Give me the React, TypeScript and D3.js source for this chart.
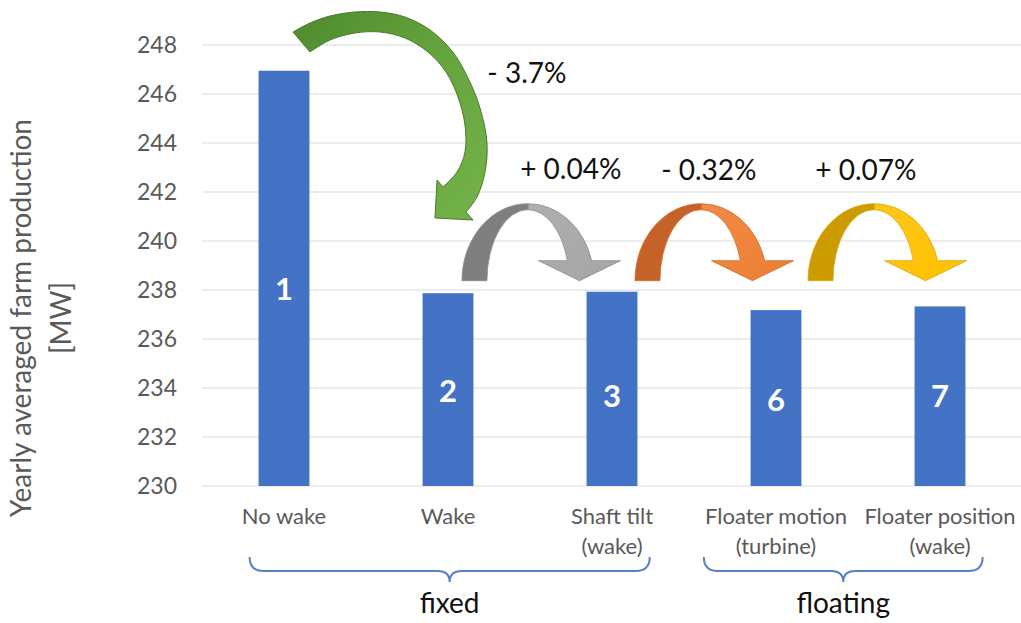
import React from "react";
import * as d3 from "d3";

const categoryLines: string[][] = [
  ["No wake"],
  ["Wake"],
  ["Shaft tilt", "(wake)"],
  ["Floater motion", "(turbine)"],
  ["Floater position", "(wake)"],
];
const categories = categoryLines.map((l) => l.join(" "));
const values = [246.95, 237.87, 237.93, 237.18, 237.33];
const barLabels = ["1", "2", "3", "6", "7"];
const barLabelValues = [238.05, 233.9, 233.7, 233.5, 233.7];
const yTicks = [230, 232, 234, 236, 238, 240, 242, 244, 246, 248];
const changeLabels = ["- 3.7%", "+ 0.04%", "- 0.32%", "+ 0.07%"];
// positions of change labels: [category index (fractional), value]
const changeLabelPos: [number, number][] = [
  [1.24, 246.45],
  [1.44, 242.55],
  [2.3, 242.5],
  [3.24, 242.5],
];
// curved arrows between bars: left foot at fractional category index
const hopArrowFrom = [1.085, 2.14, 3.195];
const hopArrowColors = [
  { dark: "#7F7F7F", light: "#A6A6A6", line: "#8C8C8C" },
  { dark: "#C5622A", light: "#EE7E32", line: "#D46A26" },
  { dark: "#CC9B00", light: "#FFC000", line: "#D9A600" },
];
const groups = [
  { name: "fixed", from: -0.21, to: 2.23 },
  { name: "floating", from: 2.56, to: 4.26 },
];

// green "big drop" arrow outline
const greenOuter: [number, number][] = [
  [293, 32], [310, 23], [330, 16], [355, 12], [380, 12], [405, 17], [430, 30],
  [452, 51], [468, 78], [480, 108], [487, 143], [485, 172], [477, 197], [466, 212],
];
const greenInner: [number, number][] = [
  [310, 52], [330, 40], [355, 33], [380, 32], [405, 38], [428, 52], [446, 72],
  [458, 97], [465, 125], [465, 152], [457, 172], [443, 187],
];
const greenHead: [number, number][] = [[473, 220], [435, 218], [437, 180]];

const W = 1021;
const H = 623;
const FONT = "Lato, 'Open Sans', sans-serif";

export default function App() {
  const x = d3
    .scaleBand<string>()
    .domain(categories)
    .range([202, 1022])
    .paddingInner(0.69)
    .paddingOuter(0.345);
  const step = x.step();
  const c0 = (x(categories[0]) as number) + x.bandwidth() / 2;
  const xi = (i: number) => c0 + i * step;
  const y = d3.scaleLinear().domain([230, 248]).range([486, 45]);

  const line = d3.line().curve(d3.curveCatmullRom.alpha(0.5));
  const greenPath =
    line(greenOuter)! +
    "L" + greenHead.map((p) => p.join(",")).join("L") +
    "L" + line(greenInner.slice().reverse())!.slice(1) +
    "Z";

  const hopArrow = (i: number) => {
    const x0 = xi(hopArrowFrom[i]);
    const base = y(238.38);
    const ro = 66, ri = 41, ryo = 77, ryi = 71;
    const cx = x0 + ro;
    const hy = base - 20;
    const dy = base - hy;
    const ox = cx + ro * Math.sqrt(1 - (dy / ryo) ** 2);
    const ix = cx + ri * Math.sqrt(1 - (dy / ryi) ** 2);
    const hx = (ox + ix) / 2;
    const dark = `M${x0},${base} A${ro},${ryo} 0 0 1 ${cx},${base - ryo} L${cx},${base - ryi} A${ri},${ryi} 0 0 0 ${cx - ri},${base} Z`;
    const light = `M${cx},${base - ryo} A${ro},${ryo} 0 0 1 ${ox},${hy} L${hx + 41},${hy} L${hx},${hy + 20} L${hx - 41},${hy} L${ix},${hy} A${ri},${ryi} 0 0 0 ${cx},${base - ryi} Z`;
    const col = hopArrowColors[i];
    return (
      <g key={"hop" + i}>
        <path d={light} fill={`url(#lg${i})`} stroke={col.line} strokeWidth={0.8} />
        <path d={dark} fill={col.dark} stroke={col.line} strokeWidth={0.8} />
      </g>
    );
  };

  const brace = (g: { name: string; from: number; to: number }) => {
    const x0 = xi(g.from), x1 = xi(g.to), xm = (x0 + x1) / 2;
    const top = 557, mid = 571, tip = 582;
    const d = `M${x0},${top} Q${x0},${mid} ${x0 + 14},${mid} L${xm - 12},${mid} Q${xm},${mid} ${xm},${tip} Q${xm},${mid} ${xm + 12},${mid} L${x1 - 14},${mid} Q${x1},${mid} ${x1},${top}`;
    return (
      <g key={g.name}>
        <path d={d} fill="none" stroke="#5B7FC6" strokeWidth={2} />
        <text x={xm} y={613} textAnchor="middle" fontSize={28} fill="#111" fontFamily={FONT}>
          {g.name}
        </text>
      </g>
    );
  };

  return (
    <svg width={W} height={H} style={{ position: "absolute", left: 0, top: 0, background: "#fff" }}>
      <defs>
        {hopArrowColors.map((c, i) => (
          <linearGradient key={i} id={"lg" + i} x1="0" y1="0" x2="1" y2="1">
            <stop offset="0" stopColor={c.light} stopOpacity={0.9} />
            <stop offset="1" stopColor={c.light} />
          </linearGradient>
        ))}
        <linearGradient id="green" x1="0" y1="0" x2="1" y2="1">
          <stop offset="0" stopColor="#4E8A2C" />
          <stop offset="0.5" stopColor="#66A53E" />
          <stop offset="1" stopColor="#74B34A" />
        </linearGradient>
      </defs>
      <rect width={W} height={H} fill="#fff" />
      {/* gridlines */}
      {yTicks.map((t) => (
        <line key={t} x1={202} x2={1021} y1={y(t)} y2={y(t)} stroke="#D9D9D9" strokeWidth={1.2} />
      ))}
      {/* tick labels */}
      {yTicks.map((t) => (
        <text key={"t" + t} x={177} y={y(t)} dy="0.35em" textAnchor="end" fontSize={23} fill="#595959" fontFamily={FONT}>
          {t}
        </text>
      ))}
      {/* axis title */}
      <g transform={`translate(0,318) rotate(-90)`} fontFamily={FONT} fontSize={28} fill="#595959" textAnchor="middle">
        <text x={0} y={31}>Yearly averaged farm production</text>
        <text x={0} y={71}>[MW]</text>
      </g>
      {/* bars */}
      {values.map((v, i) => (
        <rect key={i} x={x(categories[i])} y={y(v)} width={x.bandwidth()} height={y(230) - y(v)} fill="#4472C4" />
      ))}
      {barLabels.map((l, i) => (
        <text key={"bl" + i} x={xi(i)} y={y(barLabelValues[i])} dy="0.36em" textAnchor="middle" fontSize={31} fontWeight="bold" fill="#fff" fontFamily={FONT}>
          {l}
        </text>
      ))}
      {/* category labels */}
      {categoryLines.map((ls, i) =>
        ls.map((s, j) => (
          <text key={"c" + i + j} x={xi(i)} y={524 + j * 30} textAnchor="middle" fontSize={22} fill="#595959" fontFamily={FONT}>
            {s}
          </text>
        ))
      )}
      {/* arrows */}
      <path d={greenPath} fill="url(#green)" stroke="#4A7A2C" strokeWidth={1} />
      {hopArrowFrom.map((_, i) => hopArrow(i))}
      {/* change labels */}
      {changeLabels.map((l, i) => (
        <text key={"ch" + i} x={xi(changeLabelPos[i][0])} y={y(changeLabelPos[i][1])} fontSize={28} fill="#111" fontFamily={FONT}>
          {l}
        </text>
      ))}
      {groups.map(brace)}
    </svg>
  );
}
